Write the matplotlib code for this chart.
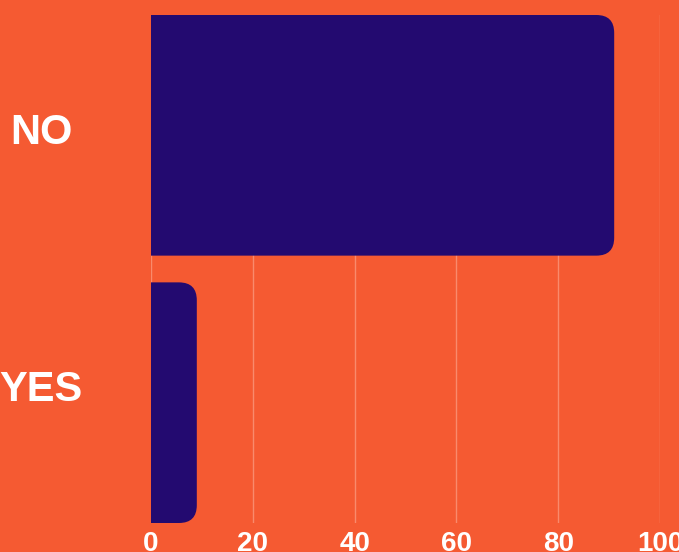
import matplotlib.pyplot as plt
from matplotlib.path import Path
from matplotlib.patches import PathPatch

categories = ["NO", "YES"]
values = [91, 9]
xticks = [0, 20, 40, 60, 80, 100]

bg = "#F55A32"
bar_color = "#230A70"
grid_color = "#F98A6C"

plt.rcParams["font.family"] = ["Liberation Sans", "DejaVu Sans"]

fig = plt.figure(figsize=(6.79, 5.52), dpi=100, facecolor=bg)
ax = fig.add_axes([151 / 679, 29 / 552, 509 / 679, 508 / 552])
ax.set_facecolor(bg)

ax.set_xlim(0, 100)
ax.set_ylim(1.45, -0.45)

bar_h = 0.9
rx = 3.5          # rounding radius in x data units
ry = 0.067        # rounding radius in y data units


def right_rounded_bar(y, w, h):
    y0, y1 = y - h / 2, y + h / 2
    verts = [(0, y0), (w - rx, y0), (w, y0), (w, y0 + ry),
             (w, y1 - ry), (w, y1), (w - rx, y1), (0, y1), (0, y0)]
    codes = [Path.MOVETO, Path.LINETO, Path.CURVE3, Path.CURVE3,
             Path.LINETO, Path.CURVE3, Path.CURVE3, Path.LINETO,
             Path.CLOSEPOLY]
    return Path(verts, codes)


for i, v in enumerate(values):
    ax.add_patch(PathPatch(right_rounded_bar(i, v, bar_h),
                           facecolor=bar_color, edgecolor="none", zorder=3))

ax.set_xticks(xticks)
ax.set_xticklabels([str(t) for t in xticks], color="white",
                   fontsize=20, fontweight="bold")
ax.tick_params(axis="x", length=0, pad=6)
ax.set_yticks([])
ax.grid(True, axis="x", color=grid_color, linewidth=1, zorder=1)
for s in ax.spines.values():
    s.set_visible(False)

label_y = [1 - 133.5 / 552, 1 - 390 / 552]
for lab, yy in zip(categories, label_y):
    fig.text(41 / 679, yy, lab, color="white", fontsize=30,
             fontweight="bold", ha="center", va="center")

fig.savefig("out.png", dpi=100, facecolor=bg)
